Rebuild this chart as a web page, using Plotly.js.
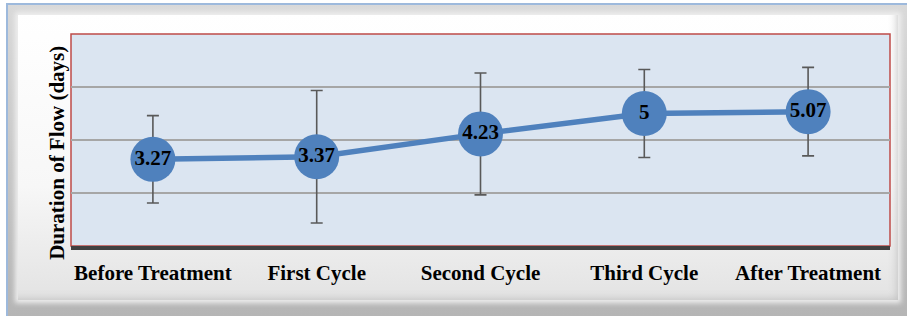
<!DOCTYPE html>
<html>
<head>
<meta charset="utf-8">
<script src="https://cdn.plot.ly/plotly-3.0.1.min.js"></script>
<style>
html,body{margin:0;padding:0;background:#ffffff;}
#wrap{position:relative;width:907px;height:318px;overflow:hidden;background:#ffffff;}
#frame{position:absolute;left:6px;top:3px;width:910px;height:313px;box-sizing:border-box;
  border-top:2px solid #9DB9DC;border-left:2px solid #9DB9DC;
  background:linear-gradient(to bottom,#d9d9d9,#b5b5b5);}
#inner{position:absolute;left:10px;top:10px;width:880px;height:285px;
  background:linear-gradient(to bottom,#ffffff 0%,#f7f7f7 60%,#e3e3e3 100%);
  box-shadow:0 0 5px 3px #efefef, inset -6px -6px 10px -6px #bbbbbb;}
#chart{position:absolute;left:0;top:0;width:907px;height:318px;}
</style>
</head>
<body>
<div id="wrap">
  <div id="frame"><div id="inner"></div></div>
  <div id="chart"></div>
</div>
<script>
const categories = ["Before Treatment", "First Cycle", "Second Cycle", "Third Cycle", "After Treatment"];
const means = [3.27, 3.37, 4.23, 5, 5.07];
const errors = [1.65, 2.5, 2.3, 1.66, 1.67];
const labels = means.map(v => String(v));
const yAxisTitle = "Duration of Flow (days)";

const serif = "Liberation Serif, Times New Roman, serif";

const trace = {
  x: categories,
  y: means,
  type: "scatter",
  mode: "lines+markers+text",
  line: {color: "#4F81BD", width: 5.5},
  marker: {color: "#4F81BD", size: 45, line: {width: 0}},
  text: labels,
  textposition: "middle center",
  textfont: {family: serif, size: 21, color: "#000000", weight: "bold"},
  error_y: {type: "data", array: errors, visible: true, color: "#595959", thickness: 1.6, width: 6},
  cliponaxis: false,
  hoverinfo: "none"
};

const layout = {
  width: 907, height: 318,
  margin: {l: 71, r: 17, t: 34, b: 72},
  paper_bgcolor: "rgba(0,0,0,0)",
  plot_bgcolor: "#DBE5F1",
  showlegend: false,
  xaxis: {
    type: "category",
    range: [-0.5, 4.5],
    showgrid: false,
    showline: true, linecolor: "#404040", linewidth: 3.5,
    ticks: "", ticklen: 0,
    ticklabelstandoff: 5,
    tickfont: {family: serif, size: 21, color: "#000000", weight: "bold"},
    fixedrange: true
  },
  yaxis: {
    range: [0, 8],
    dtick: 2,
    showticklabels: false,
    showgrid: true, gridcolor: "#A6A6A6", gridwidth: 1.2,
    zeroline: false,
    showline: false,
    fixedrange: true
  },
  shapes: [{
    type: "rect", xref: "paper", yref: "paper", x0: 0, x1: 1, y0: 0, y1: 1,
    line: {color: "#BE4B48", width: 1.5}, fillcolor: "rgba(0,0,0,0)", layer: "below"
  }],
  annotations: [{
    text: yAxisTitle, xref: "paper", yref: "paper", x: -0.017, y: 0.44,
    xanchor: "center", yanchor: "middle", textangle: -90, showarrow: false,
    font: {family: serif, size: 21, color: "#000000", weight: "bold"}
  }]
};

Plotly.newPlot("chart", [trace], layout, {displayModeBar: false, staticPlot: true});
</script>
</body>
</html>
